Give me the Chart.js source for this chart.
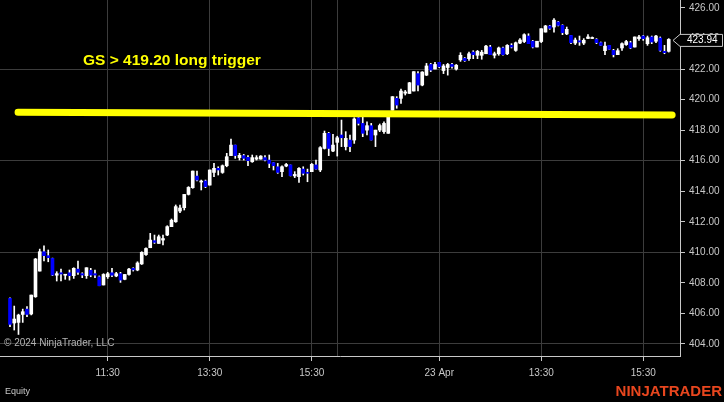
<!DOCTYPE html>
<html>
<head>
<meta charset="utf-8">
<script src="https://cdn.jsdelivr.net/npm/chart.js@4/dist/chart.umd.min.js"></script>
<style>
  html, body { margin:0; padding:0; background:#000; }
  #wrap { position:relative; width:724px; height:402px; background:#000; font-family:"Liberation Sans", Arial, sans-serif; }
  #wrap div { position:absolute; white-space:nowrap; }
  #trigger { left:83px; top:51px; font-size:15.5px; font-weight:bold; color:#ffff00; }
  #copy { left:4px; top:337px; font-size:10px; color:#b4b4b4; }
  #equity { left:5px; top:386px; font-size:9px; color:#c8c8c8; }
  #brand { right:2px; top:382px; font-size:15px; font-weight:bold; color:#e8461e; }
</style>
</head>
<body>
<div id="wrap">
  <canvas id="chart" width="724" height="402"></canvas>
  <div id="trigger">GS &gt; 419.20 long trigger</div>
  <div id="copy">© 2024 NinjaTrader, LLC</div>
  <div id="equity">Equity</div>
  <div id="brand">NINJATRADER</div>
</div>
<script>
// 5 min bars, 22 Apr 9:35 -> 23 Apr 16:00 (bar index on x)
const open = [
  406.98,405.37,405.41,405.93,406.28,405.96,407.09,408.77,410.04,409.78,
  409.6,408.5,408.66,408.5,408.66,408.47,408.9,408.6,408.47,408.82,
  408.6,408.4,407.86,408.4,408.66,408.45,408.6,408.23,408.55,408.95,
  408.84,409.24,409.85,410.3,410.76,410.58,410.8,411.13,411.68,412.0,
  412.7,412.92,413.79,414.23,414.99,414.6,414.67,414.4,415.23,415.5,
  415.23,415.67,416.33,417.02,416.2,416.33,416.22,415.93,416.1,416.1,
  416.2,416.04,415.87,415.6,415.28,415.65,415.72,415.0,414.95,415.45,
  415.2,415.28,415.72,415.39,416.8,417.79,416.63,417.2,417.68,416.92,
  417.35,417.35,418.81,418.44,418.0,418.29,417.68,418.0,417.9,417.79,
  419.3,420.08,420.08,420.42,420.4,420.56,421.7,420.95,421.6,422.3,
  422.0,422.44,421.9,422.1,422.3,422.0,422.6,422.7,422.68,423.11,
  422.9,422.9,423.0,423.44,422.9,423.0,423.38,423.0,423.55,423.22,
  423.7,423.8,424.16,423.82,423.44,423.8,424.42,424.82,424.75,425.08,
  424.86,424.3,424.2,423.7,423.85,423.7,424.0,424.0,423.94,423.73,
  423.2,423.55,423.22,422.94,423.38,423.6,423.72,423.44,423.99,424.16,
  423.66,424.1,423.82,424.03,423.16,423.16
];
const high = [
  407.02,406.48,405.95,406.28,406.44,407.2,409.6,410.21,410.43,410.15,
  409.62,408.73,408.9,408.55,408.84,408.99,409.43,408.66,408.99,408.95,
  408.84,408.45,408.6,408.69,408.95,408.69,408.69,408.55,408.95,408.99,
  409.38,410.04,410.3,411.24,411.13,411.13,411.13,411.74,412.18,413.1,
  413.1,413.79,414.3,415.32,415.32,414.73,414.73,415.39,415.82,415.6,
  415.72,416.48,417.42,417.02,416.48,416.41,416.33,416.37,416.33,416.33,
  416.33,416.37,415.87,415.82,415.67,415.82,415.72,415.28,415.54,415.6,
  415.45,415.82,416.04,416.92,417.94,417.85,417.72,417.6,418.66,417.9,
  417.68,418.81,418.88,418.9,418.55,418.44,418.0,418.4,418.55,419.2,
  420.2,420.19,420.69,420.6,421.13,421.83,421.83,421.83,422.37,422.37,
  422.44,422.44,422.3,422.37,422.37,422.3,423.07,422.75,423.11,423.2,
  423.22,423.22,423.55,423.55,423.11,423.44,423.44,423.6,423.66,423.77,
  423.99,424.31,424.31,423.88,423.82,424.64,424.86,424.86,425.3,425.12,
  424.9,424.75,424.2,424.03,424.16,423.99,424.25,424.1,423.99,423.77,
  423.77,423.55,423.29,423.33,423.72,423.88,423.82,424.1,424.2,424.2,
  424.16,424.16,424.2,424.1,423.55,423.99
];
const low = [
  405.13,404.91,404.62,405.41,405.78,405.9,407.05,408.77,409.43,409.38,
  408.47,408.12,408.12,408.23,408.18,408.29,408.55,408.34,408.29,408.4,
  408.34,407.81,407.86,408.29,408.4,408.4,408.03,408.2,408.51,408.77,
  408.79,409.2,409.8,410.3,410.58,410.58,410.48,411.09,411.68,411.96,
  412.6,412.77,413.75,414.19,414.67,414.08,414.23,414.4,414.95,415.06,
  415.17,415.6,416.33,416.15,416.04,416.04,415.67,415.89,416.04,416.1,
  415.98,415.54,415.39,415.17,414.95,415.6,415.0,414.89,414.58,415.06,
  414.62,415.28,415.45,415.28,416.76,416.33,416.59,416.3,416.92,416.7,
  416.59,417.13,418.33,417.57,417.68,417.35,416.92,417.9,417.79,417.79,
  419.3,419.43,419.75,420.3,420.4,420.56,420.56,420.9,421.57,421.83,
  422.0,422.09,421.7,421.6,422.05,421.93,422.5,422.5,422.57,422.68,
  422.68,422.64,423.0,422.94,422.72,422.9,422.9,422.94,423.38,423.16,
  423.66,423.73,423.66,423.38,423.44,423.73,424.42,424.6,424.42,424.82,
  424.25,424.25,423.66,423.6,423.55,423.6,423.99,423.99,423.66,423.55,
  422.94,423.29,422.79,422.94,423.22,423.55,423.33,423.44,423.88,423.88,
  423.55,423.66,423.73,423.16,423.0,423.11
];
const close = [
  405.28,405.63,405.89,406.11,405.93,407.2,409.56,410.04,409.78,409.65,
  408.51,408.6,408.58,408.55,408.47,408.95,408.69,408.51,408.99,408.51,
  408.51,407.81,408.55,408.6,408.5,408.6,408.18,408.55,408.9,408.85,
  409.3,410.0,410.25,410.8,410.65,411.02,410.9,411.68,412.1,412.99,
  412.9,413.79,414.25,415.32,414.73,414.65,414.3,415.39,415.5,415.39,
  415.67,416.26,417.02,416.33,416.35,416.15,416.0,416.2,416.2,416.3,
  416.04,415.82,415.67,415.23,415.6,415.75,415.02,415.1,415.5,415.17,
  415.17,415.76,415.45,416.85,417.79,416.8,417.02,417.5,417.5,417.46,
  416.92,418.73,418.44,417.79,418.29,417.35,418.0,418.3,418.44,418.95,
  420.19,419.64,420.56,420.5,421.1,421.83,420.95,421.8,422.2,421.93,
  422.3,422.15,422.2,422.3,422.17,422.25,422.9,422.55,423.0,422.94,
  423.16,423.1,423.5,422.94,423.0,423.38,422.94,423.55,423.44,423.72,
  423.9,424.25,423.66,423.44,423.82,424.64,424.82,424.66,425.2,424.86,
  424.38,424.6,423.73,423.9,423.77,423.88,424.1,424.05,423.73,423.55,
  423.5,423.29,422.94,423.2,423.66,423.8,423.38,424.1,424.1,423.99,
  424.05,423.77,424.16,423.22,423.07,423.94
];

const tickIdx = [23, 47, 71, 101, 125, 149];
const tickText = ["11:30", "13:30", "15:30", "23 Apr", "13:30", "15:30"];
const sessionBreak = 77;
const priceTicks = [404,406,408,410,412,414,416,418,420,422,424,426];

// drawn trend line: [x index, price]
const triggerLine = [[1.9, 419.17], [155.8, 418.99]];

const wicks = open.map((o, i) => ({ x: i, y: [low[i], high[i]] }));
const bodies = open.map((o, i) => ({ x: i, y: [o, close[i]] }));
const bodyColors = open.map((o, i) => close[i] >= o ? "#ffffff" : "#0000ff");

const priceMarker = {
  id: "priceMarker",
  afterDraw(chart) {
    const c = chart.ctx;
    const last = close[close.length - 1];
    const y = chart.scales.y.getPixelForValue(last) + 1;
    const x0 = chart.chartArea.right - 7;
    c.save();
    c.beginPath();
    c.moveTo(x0, y);
    c.lineTo(x0 + 7, y - 6);
    c.lineTo(722.5, y - 6);
    c.lineTo(722.5, y + 6);
    c.lineTo(x0 + 7, y + 6);
    c.closePath();
    c.fillStyle = "#000";
    c.fill();
    c.strokeStyle = "#c8c8c8";
    c.lineWidth = 1;
    c.stroke();
    c.fillStyle = "#ffffff";
    c.font = "10px 'Liberation Sans', Arial, sans-serif";
    c.textBaseline = "middle";
    c.fillText(last.toFixed(2), x0 + 14, y);
    c.restore();
  }
};

Chart.defaults.font.family = "'Liberation Sans', Arial, sans-serif";
Chart.defaults.font.size = 10;
Chart.defaults.color = "#c8c8c8";

new Chart(document.getElementById("chart"), {
  type: "bar",
  data: {
    datasets: [
      {
        type: "line",
        data: triggerLine.map(p => ({ x: p[0], y: p[1] })),
        borderColor: "#ffff00",
        borderWidth: 7,
        borderCapStyle: "round",
        pointRadius: 0,
        order: 0
      },
      {
        data: bodies,
        backgroundColor: bodyColors,
        barThickness: 3,
        minBarLength: 1,
        grouped: false,
        order: 1
      },
      {
        data: wicks,
        backgroundColor: "#ffffff",
        barThickness: 1,
        grouped: false,
        order: 2
      }
    ]
  },
  options: {
    responsive: false,
    animation: false,
    events: [],
    layout: { padding: { left: 0, right: 0, top: 0, bottom: 20 } },
    plugins: { legend: { display: false }, tooltip: { enabled: false } },
    scales: {
      x: {
        type: "linear",
        min: -2.35,
        max: 157.65,
        offset: false,
        afterBuildTicks: s => { s.ticks = [...tickIdx, sessionBreak].sort((a, b) => a - b).map(v => ({ value: v })); },
        afterFit: s => { s.height = 26; s.paddingLeft = 0; s.paddingRight = 0; },
        ticks: {
          autoSkip: false,
          maxRotation: 0,
          padding: 6,
          color: "#c8c8c8",
          callback: v => { const k = tickIdx.indexOf(v); return k < 0 ? "" : tickText[k]; }
        },
        grid: {
          offset: false,
          color: "#3c3c3c",
          tickLength: 5,
          tickColor: ctx => ctx.tick && ctx.tick.value === sessionBreak ? "rgba(0,0,0,0)" : "#c8c8c8"
        },
        border: { display: true, color: "#c8c8c8" }
      },
      y: {
        position: "right",
        min: 403.21,
        max: 426.52,
        afterBuildTicks: s => { s.ticks = priceTicks.map(v => ({ value: v })); },
        afterFit: s => { s.width = 44; s.paddingTop = 0; s.paddingBottom = 0; },
        ticks: {
          padding: 4,
          color: "#c8c8c8",
          callback: v => v.toFixed(2)
        },
        grid: {
          color: ctx => ctx.tick && (ctx.tick.value - 404) % 6 === 0 ? "#3c3c3c" : "rgba(0,0,0,0)",
          tickLength: 5,
          tickColor: "#c8c8c8"
        },
        border: { display: true, color: "#c8c8c8" }
      }
    }
  },
  plugins: [priceMarker]
});
</script>
</body>
</html>
